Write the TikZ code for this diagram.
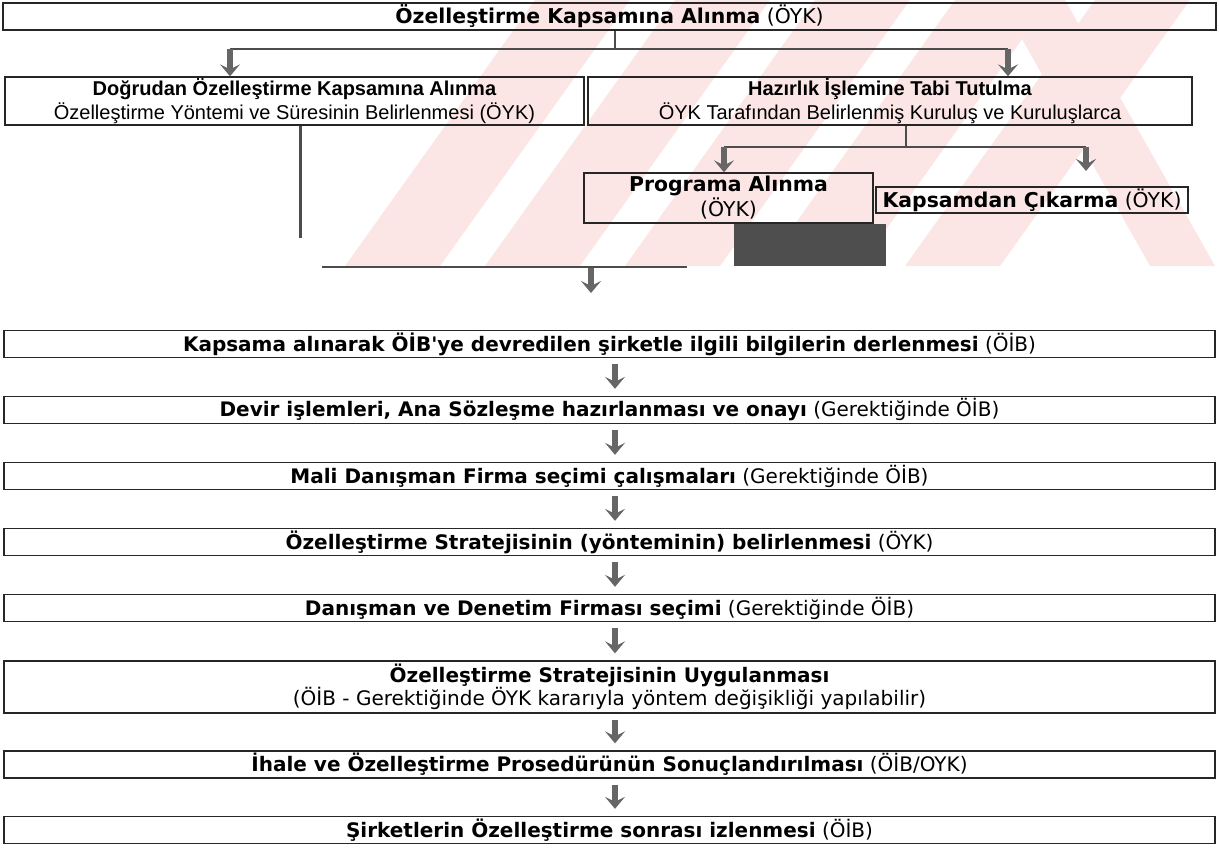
\documentclass[tikz,border=0pt]{standalone}
\usepackage{fontspec}
\setmainfont{Liberation Sans}
\newfontfamily\verd{DejaVu Sans}
\usetikzlibrary{positioning,arrows.meta,calc}

\definecolor{wmpink}{RGB}{252,229,229}
\definecolor{blotgray}{RGB}{78,78,78}

\begin{document}
\begin{tikzpicture}[x=0.5pt, y=-0.5pt,
  >={Stealth[width=10pt,length=6pt,inset=2.5pt]},
  box/.style={draw=black!85, line width=0.7pt, inner sep=0pt, align=center},
  head/.style={box, font=\fontsize{10}{12}\selectfont},
  tahoma/.style={box, font=\verd\fontsize{10.2}{11.5}\selectfont},
  wide/.style={box, minimum width=605.5pt, minimum height=13.5pt, font=\verd\fontsize{10}{11.5}\selectfont},
  link/.style={draw=black!70, line width=0.6pt},
  arr/.style={->, draw=black!60, line width=3pt},
]
\useasboundingbox (0,0) rectangle (1219,847);

% watermark behind the upper part
\begin{scope}
  \clip (0,0) rectangle (1219,266);
  \foreach \a in {345,485,625,765,905}
    \fill[wmpink] (\a,266) -- ++(95,0) -- ++(190,-266) -- ++(-95,0) -- cycle;
  \fill[wmpink] (1000,0) -- ++(65,0) -- ++(150,266) -- ++(-65,0) -- cycle;
\end{scope}

% upper part
\node[tahoma, minimum width=606.5pt, minimum height=13.5pt] (kapsam) at (609.5,16.5) {\textbf{Özelleştirme Kapsamına Alınma} (ÖYK)};
\node[head, minimum width=289.5pt, minimum height=24pt] (direct) at (294.5,101) {\textbf{Doğrudan Özelleştirme Kapsamına Alınma}\\ Özelleştirme Yöntemi ve Süresinin Belirlenmesi (ÖYK)};
\node[head, minimum width=302pt, minimum height=24pt] (prep) at (890,101) {\textbf{Hazırlık İşlemine Tabi Tutulma}\\ ÖYK Tarafından Belirlenmiş Kuruluş ve Kuruluşlarca};
\node[tahoma, minimum width=144.5pt, minimum height=25pt] (prog) at (728.5,198) {\textbf{Programa Alınma}\\ (ÖYK)};
\node[tahoma, minimum width=156pt, minimum height=13pt] (excl) at (1032,200) {\textbf{Kapsamdan Çıkarma} (ÖYK)};
\node[fill=blotgray, minimum width=76pt, minimum height=21pt, inner sep=0pt] (blot) at (810,244.5) {};

\coordinate (j1) at (615,49);
\coordinate (jl) at (230,49);
\coordinate (jr) at (1008,49);
\draw[link] (kapsam.south -| j1) -- (j1);
\draw[link] (jl) -- (jr);
\draw[arr] (jl) -- (jl |- direct.north);
\draw[arr] (jr) -- (jr |- prep.north);

\coordinate (j2) at (906,147);
\coordinate (j2l) at (724,147);
\coordinate (j2r) at (1086,147);
\coordinate (cut) at (1086,171);
\draw[link] (prep.south -| j2) -- (j2);
\draw[link] (j2l) -- (j2r);
\draw[arr] (j2l) -- (j2l |- prog.north);
\draw[arr] (j2r) -- (cut);

% left branch and merge line
\coordinate (drop) at (300,238);
\draw[link, line width=1.5pt] (direct.south -| drop) -- (drop);
\coordinate (ml) at (322,267);
\coordinate (mr) at (687,267);
\coordinate (mj) at (591,268);
\coordinate (me) at (591,293);
\draw[link] (ml) -- (mr);
\draw[arr] (mj) -- (me);

% lower chain
\node[wide] (s1) at (609.5,344) {\textbf{Kapsama alınarak ÖİB'ye devredilen şirketle ilgili bilgilerin derlenmesi} (ÖİB)};
\node[wide] (s2) at (609.5,410) {\textbf{Devir işlemleri, Ana Sözleşme hazırlanması ve onayı} (Gerektiğinde ÖİB)};
\node[wide] (s3) at (609.5,476) {\textbf{Mali Danışman Firma seçimi çalışmaları} (Gerektiğinde ÖİB)};
\node[wide] (s4) at (609.5,542) {\textbf{Özelleştirme Stratejisinin (yönteminin) belirlenmesi} (ÖYK)};
\node[wide] (s5) at (609.5,608) {\textbf{Danışman ve Denetim Firması seçimi} (Gerektiğinde ÖİB)};
\node[wide, minimum height=26pt] (s6) at (609.5,687) {\textbf{Özelleştirme Stratejisinin Uygulanması}\\ (ÖİB - Gerektiğinde ÖYK kararıyla yöntem değişikliği yapılabilir)};
\node[wide] (s7) at (609.5,764.5) {\textbf{İhale ve Özelleştirme Prosedürünün Sonuçlandırılması} (ÖİB/OYK)};
\node[wide] (s8) at (609.5,830) {\textbf{Şirketlerin Özelleştirme sonrası izlenmesi} (ÖİB)};

\coordinate (ax) at (615,0);
\foreach \a/\b in {s1/s2,s2/s3,s3/s4,s4/s5,s5/s6,s6/s7,s7/s8}
  \draw[arr, shorten <=3pt, shorten >=3.5pt] (\a.south -| ax) -- (\b.north -| ax);
\end{tikzpicture}
\end{document}
